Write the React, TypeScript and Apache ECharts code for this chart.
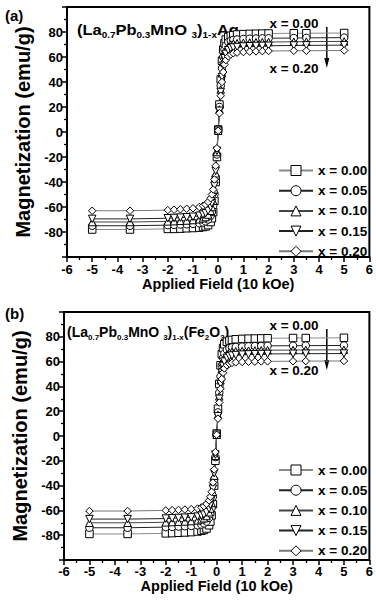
import React, { useEffect, useRef } from "react";
import * as echarts from "echarts";

// Applied field (10 kOe) – shared sampling of both loops
const fieldH = [
  -5, -3.5, -2, -1.75, -1.5, -1.25, -1, -0.75, -0.6, -0.5, -0.4, -0.3, -0.25, -0.2, -0.15, -0.1, -0.05, 0,
  0.05, 0.1, 0.15, 0.2, 0.25, 0.3, 0.4, 0.5, 0.6, 0.75, 1, 1.25, 1.5, 1.75, 2, 3, 3.5, 5,
];

const seriesNames = ["x = 0.00", "x = 0.05", "x = 0.10", "x = 0.15", "x = 0.20"];

// Panel (a): (La0.7Pb0.3MnO3)1-xAgx, magnetization (emu/g)
const agM000 = [-78, -78, -77.5, -77.5, -77.3, -77, -76.8, -76.5, -76, -75.5, -74.5, -72, -69, -64, -55, -40, -20, 2, 22, 42, 57, 66, 71, 74, 76, 77, 77.5, 78, 78.3, 78.5, 78.6, 78.7, 78.8, 79, 79, 79.2];
const agM005 = [-75, -75, -74.5, -74.3, -74, -73.8, -73.5, -73, -72.4, -71.5, -70, -67, -64, -59, -50, -36, -18, 2, 20, 37, 51, 60, 66, 69, 72, 73, 73.6, 74, 74.4, 74.6, 74.8, 74.9, 75, 75.2, 75.3, 75.5];
const agM010 = [-72, -72, -71.5, -71.3, -71, -70.8, -70.4, -69.8, -69, -68, -66, -63, -60, -55, -46, -33, -16, 1, 18, 34, 47, 56, 62, 65.5, 68.5, 70, 70.6, 71, 71.4, 71.6, 71.8, 71.9, 72, 72.2, 72.3, 72.5];
const agM015 = [-69.5, -69.5, -69, -68.8, -68.5, -68.2, -67.8, -67, -66, -65, -63, -60, -57, -52, -43, -31, -15, 1, 17, 32, 44, 53, 59, 62.5, 65.5, 67, 67.6, 68, 68.4, 68.6, 68.8, 68.9, 69, 69.2, 69.3, 69.5];
const agM020 = [-63, -63, -62.5, -62.2, -61.8, -61.4, -61, -60, -59, -58, -56, -53, -50, -46, -38, -27, -13, 1, 15, 29, 40, 48, 54, 57.5, 60.5, 62, 63, 63.5, 64, 64.3, 64.5, 64.7, 64.8, 65, 65, 65.2];

// Panel (b): (La0.7Pb0.3MnO3)1-x(Fe2O3)x, magnetization (emu/g)
const feM000 = [-79, -79, -78.5, -78.3, -78, -77.8, -77.5, -77, -76.4, -75.8, -74.6, -72, -69, -64, -55, -40, -20, 2, 22, 42, 57, 66, 71, 74, 76, 77, 77.5, 78, 78.3, 78.5, 78.6, 78.7, 78.8, 79, 79, 79.2];
const feM005 = [-74, -74, -73.5, -73.3, -73, -72.8, -72.5, -72, -71.4, -70.5, -69, -66, -63, -58, -49, -35, -17, 1, 19, 35, 48, 57, 63, 66.5, 69.5, 70.8, 71.4, 71.8, 72.1, 72.3, 72.5, 72.6, 72.7, 72.8, 72.9, 73];
const feM010 = [-70, -70, -69.6, -69.4, -69.1, -68.9, -68.6, -68, -67.2, -66.3, -64.5, -61.5, -58.5, -54, -45, -32, -16, 1, 17, 32, 45, 54, 59.5, 63, 66, 67.3, 67.9, 68.3, 68.6, 68.8, 69, 69.1, 69.2, 69.3, 69.4, 69.5];
const feM015 = [-67, -67, -66.6, -66.4, -66.1, -65.9, -65.6, -65, -64.2, -63.3, -61.5, -58.5, -55.5, -51, -42.5, -30, -15, 1, 16, 30, 42, 51, 56.5, 60, 63, 64.3, 64.9, 65.3, 65.6, 65.8, 66, 66.1, 66.2, 66.3, 66.4, 66.5];
const feM020 = [-60.5, -60.5, -60, -59.8, -59.6, -59.3, -59, -58.5, -57.6, -56.6, -54.8, -52, -49, -45, -37.5, -27, -13, 1, 14, 27, 38, 46, 51, 54.5, 57, 58.3, 59, 59.4, 59.7, 59.9, 60, 60.1, 60.2, 60.3, 60.4, 60.5];

const agSeries = [agM000, agM005, agM010, agM015, agM020];
const feSeries = [feM000, feM005, feM010, feM015, feM020];

const symbols = ["rect", "circle", "triangle", "triangle", "diamond"];
const symbolRotations = [0, 0, 0, 180, 0];
const lineColors = ["#8a8a8a", "#222", "#444", "#222", "#777"];

const FONT = "'Liberation Sans', Arial, Helvetica, sans-serif";

function makeAxes(gridIndex: number, xNameGap: number, xLabelMargin: number) {
  const tick = { show: true, inside: false, length: 5, lineStyle: { color: "#000", width: 1.5 } };
  const minor = { show: true, splitNumber: 2, length: 3, lineStyle: { color: "#000", width: 1.3 } };
  const line = { show: true, onZero: false, lineStyle: { color: "#000", width: 2 } };
  const label = { color: "#000", fontSize: 13, fontWeight: "bold" as const, fontFamily: FONT };
  const xAxis = {
    type: "value",
    gridIndex,
    min: -6,
    max: 6,
    interval: 1,
    axisLine: line,
    axisTick: tick,
    minorTick: minor,
    splitLine: { show: false },
    axisLabel: { ...label, margin: xLabelMargin },
    name: "Applied Field (10 kOe)",
    nameLocation: "middle",
    nameGap: xNameGap,
    nameTextStyle: { color: "#000", fontSize: 14.5, fontWeight: "bold", fontFamily: FONT },
  };
  const yAxis = {
    type: "value",
    gridIndex,
    min: -100,
    max: 100,
    interval: 20,
    axisLine: line,
    axisTick: tick,
    minorTick: minor,
    splitLine: { show: false },
    axisLabel: { ...label, margin: 4, showMinLabel: false, showMaxLabel: false },
    name: "Magnetization (emu/g)",
    nameLocation: "middle",
    nameGap: 32,
    nameTextStyle: { color: "#000", fontSize: 20, fontWeight: "bold", fontFamily: FONT },
  };
  return { xAxis, yAxis };
}

function makeSeries(data: number[][], idx: number) {
  return data.map((arr, i) => ({
    type: "line",
    name: seriesNames[i],
    xAxisIndex: idx,
    yAxisIndex: idx,
    data: fieldH.map((h, k) => [h, arr[k]]),
    symbol: symbols[i],
    symbolRotate: symbolRotations[i],
    symbolSize: 7.5,
    showAllSymbol: true,
    lineStyle: { color: lineColors[i], width: 1 },
    itemStyle: { color: "#fff", borderColor: "#000", borderWidth: 1 },
    emphasis: { disabled: true },
  }));
}

function makeLegend(top: number) {
  return {
    orient: "vertical",
    left: 273,
    top,
    itemWidth: 34,
    itemHeight: 12.5,
    itemGap: 6.2,
    itemStyle: { borderColor: "#000", borderWidth: 1, color: "#fff" },
    textStyle: { color: "#000", fontSize: 13.5, fontWeight: "bold", fontFamily: FONT, lineHeight: 12.5 },
    data: seriesNames,
    selectedMode: false,
  };
}

function annotations(dy: number, formula: string, rich: any, fx: number, sx: number) {
  const t = (text: string, x: number, y: number, size = 13.5) => ({
    type: "text",
    x,
    y,
    style: {
      text,
      fill: "#000",
      font: `bold ${size}px ${FONT}`,
      textAlign: "center",
      textVerticalAlign: "middle",
    },
  });
  return [
    t("x = 0.00", 294, 23.5 + dy),
    t("x = 0.20", 294, 68.5 + dy),
    {
      type: "line",
      shape: { x1: 326.8, y1: 27 + dy, x2: 326.8, y2: 60 + dy },
      style: { stroke: "#000", lineWidth: 1.5 },
    },
    {
      type: "polygon",
      shape: { points: [[324.3, 58 + dy], [329.3, 58 + dy], [326.8, 68 + dy]] },
      style: { fill: "#000" },
    },
    {
      type: "text",
      x: fx,
      y: 30 + dy,
      scaleX: sx,
      style: { text: formula, rich, fill: "#000", textVerticalAlign: "middle" },
    },
  ];
}

export default function App() {
  const ref = useRef<HTMLDivElement>(null);
  useEffect(() => {
    document.body.style.margin = "0";
    const chart = echarts.init(ref.current!, null, { renderer: "svg" });
    const a = makeAxes(0, 19, 6);
    const b = makeAxes(1, 16, 5);
    const richA = {
      m: { fontSize: 15, fontWeight: "bold", fontFamily: FONT, lineHeight: 18, fill: "#000" },
      s: { fontSize: 9, fontWeight: "bold", fontFamily: FONT, lineHeight: 9, verticalAlign: "bottom", fill: "#000" },
    };
    const richB = {
      m: { fontSize: 14, fontWeight: "bold", fontFamily: FONT, lineHeight: 18, fill: "#000" },
      s: { fontSize: 8, fontWeight: "bold", fontFamily: FONT, lineHeight: 9, verticalAlign: "bottom", fill: "#000" },
    };
    const formulaA = "{m|(La}{s|0.7}{m|Pb}{s|0.3}{m|MnO }{s|3}{m|)}{s|1-x}{m|Ag}{s| x}";
    const formulaB = "{m|(La}{s|0.7}{m|Pb}{s|0.3}{m|MnO }{s|3}{m|)}{s|1-x}{m|(Fe}{s|2}{m|O}{s|3}{m|)}{s|x}";
    chart.setOption({
      animation: false,
      backgroundColor: "#fff",
      grid: [
        { left: 67, top: 7, width: 304, height: 250, show: true, borderColor: "#000", borderWidth: 2, backgroundColor: "transparent" },
        { left: 64, top: 312, width: 307, height: 248, show: true, borderColor: "#000", borderWidth: 2, backgroundColor: "transparent" },
      ],
      xAxis: [a.xAxis, b.xAxis],
      yAxis: [a.yAxis, b.yAxis],
      legend: [makeLegend(158.5), makeLegend(458)],
      series: [...makeSeries(agSeries, 0), ...makeSeries(feSeries, 1)],
      graphic: [
        { type: "text", x: 5, y: 15, style: { text: "(a)", fill: "#000", font: `bold 15px ${FONT}`, textVerticalAlign: "middle" } },
        { type: "text", x: 5, y: 313, style: { text: "(b)", fill: "#000", font: `bold 15px ${FONT}`, textVerticalAlign: "middle" } },
        ...annotations(0, formulaA, richA, 77, 1.1),
        ...annotations(302, formulaB, richB, 67, 1),
      ],
    });
    return () => chart.dispose();
  }, []);
  return <div ref={ref} style={{ position: "absolute", left: 0, top: 0, width: 376, height: 602 }} />;
}
